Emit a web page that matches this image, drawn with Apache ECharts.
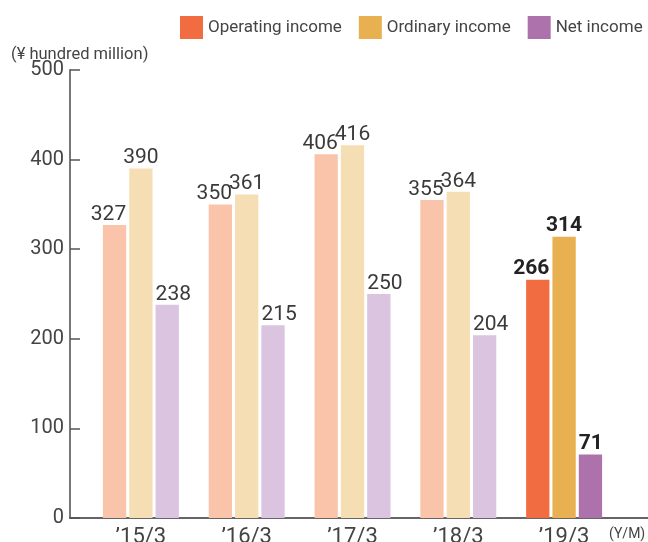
<!DOCTYPE html>
<html>
<head>
<meta charset="utf-8">
<script src="https://cdn.jsdelivr.net/npm/echarts@6/dist/echarts.min.js"></script>
<style>html,body{margin:0;padding:0;background:#fff}#c{width:648px;height:542px}</style>
</head>
<body>
<div id="c"></div>
<script>
const categories = ["\u201915/3", "\u201916/3", "\u201917/3", "\u201918/3", "\u201919/3"];
const operatingIncome = [327, 350, 406, 355, 266];
const ordinaryIncome = [390, 361, 416, 364, 314];
const netIncome = [238, 215, 250, 204, 71];
const yMin = 0, yMax = 500, yInterval = 100;
const unitLabel = "(\u00a5 hundred million)";
const xUnitLabel = "(Y/M)";

const FONT = "Roboto";
const colors = {
  operating: { full: "#F26C42", faded: "#FAC4AB" },
  ordinary: { full: "#E8B050", faded: "#F6DEB4" },
  net: { full: "#AD72AC", faded: "#DAC4E0" }
};

function makeSeries(name, values, col, labelPos) {
  const last = values.length - 1;
  return {
    type: "bar",
    name: name,
    xAxisIndex: 0,
    yAxisIndex: 0,
    barWidth: 23.3,
    barGap: "13%",
    itemStyle: { color: col.full },
    label: Object.assign({
      show: true,
      fontFamily: FONT,
      fontSize: 21,
      color: "#3a3a3a"
    }, labelPos),
    data: values.map((v, i) => ({
      value: v,
      itemStyle: { color: i === last ? col.full : col.faded },
      label: i === last ? { fontWeight: "bold", fontSize: 21, color: "#222" } : {}
    })),
    emphasis: { disabled: true }
  };
}

const chart = echarts.init(document.getElementById("c"), null, { renderer: "canvas" });
chart.setOption({
  animation: false,
  title: {
    text: unitLabel,
    left: 11, top: 46, padding: 0,
    textStyle: { fontFamily: FONT, fontSize: 16.5, fontWeight: "normal", color: "#444" }
  },
  legend: {
    left: 175, top: 11,
    itemWidth: 23, itemHeight: 23, itemGap: 17,
    icon: "rect",
    textStyle: { fontFamily: FONT, fontSize: 17, color: "#444" },
    data: ["Operating income", "Ordinary income", "Net income"]
  },
  graphic: [{
    type: "text",
    left: 609, top: 527,
    style: { text: xUnitLabel, fontFamily: FONT, fontSize: 14, fill: "#444" }
  }],
  grid: [
    { left: 88, right: 31, top: 70, bottom: 24, containLabel: false, outerBoundsMode: "none" },
    { left: 70, right: 0, top: 70, bottom: 24, containLabel: false, outerBoundsMode: "none" }
  ],
  xAxis: [
    {
      type: "category", gridIndex: 0, data: categories,
      axisLine: { show: false }, axisTick: { show: false },
      axisLabel: { fontFamily: FONT, fontSize: 22, color: "#444", margin: 8 }
    },
    {
      type: "category", gridIndex: 1, data: [],
      axisLine: { show: true, lineStyle: { color: "#333", width: 1.5 } },
      axisTick: { show: false }, axisLabel: { show: false }
    }
  ],
  yAxis: [
    {
      type: "value", gridIndex: 0, min: yMin, max: yMax, interval: yInterval,
      show: false, splitLine: { show: false }
    },
    {
      type: "value", gridIndex: 1, min: yMin, max: yMax, interval: yInterval,
      axisLine: { show: true, lineStyle: { color: "#777", width: 2 } },
      axisTick: { show: true, inside: true, length: 10, lineStyle: { color: "#555", width: 1.5 } },
      axisLabel: { fontFamily: FONT, fontSize: 20, color: "#444", margin: 6 },
      splitLine: { show: false }
    }
  ],
  series: [
    makeSeries("Operating income", operatingIncome, colors.operating,
      { position: ["100%", 0], align: "right", verticalAlign: "bottom" }),
    makeSeries("Ordinary income", ordinaryIncome, colors.ordinary,
      { position: "top", distance: 0 }),
    makeSeries("Net income", netIncome, colors.net,
      { position: [0, 0], align: "left", verticalAlign: "bottom" })
  ]
});
</script>
</body>
</html>
